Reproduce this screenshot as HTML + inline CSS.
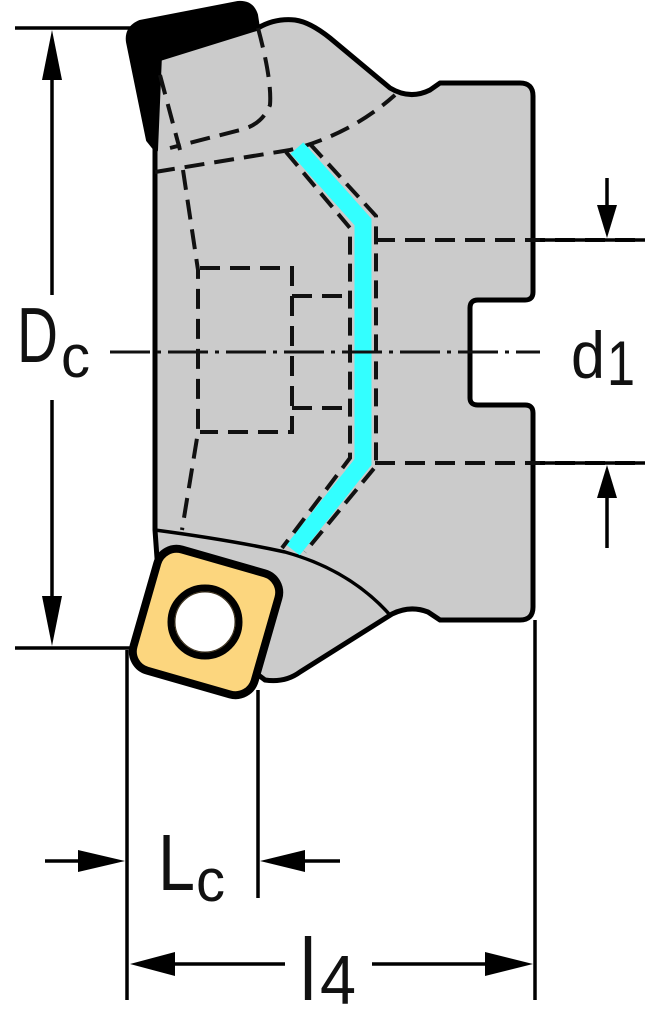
<!DOCTYPE html>
<html><head><meta charset="utf-8"><style>
html,body{margin:0;padding:0;background:#fff}
svg{display:block}
text{font-family:"Liberation Sans",sans-serif;fill:#111}
</style></head><body>
<svg width="661" height="1024" viewBox="0 0 661 1024" xmlns="http://www.w3.org/2000/svg">
<path d="M155,150 L155,60 L258,28 Q275,18 295,20 Q310,22 330,38 L390,88 Q410,100 430,90 L440,83 L520,83 Q533,83 533,96 L533,292 Q533,300 525,300 L478,300 Q470,300 470,308 L470,398 Q470,405 478,405 L525,405 Q533,405 533,413 L533,607 Q533,620 520,620 L440,620 L428,612 Q410,605 392,614 L300,672 Q285,683 265,680 L160,600 L155,530 Z" fill="#cbcbcb" stroke="#000" stroke-width="5" stroke-linejoin="round"/>
<path d="M155,530 Q230,540 285,552 Q350,570 390,615" fill="none" stroke="#000" stroke-width="3.5"/>
<path d="M128,42 Q126,28 140,22 L238,3 Q252,2 256,15 L258,28 L160,55 L156,150 L148,140 Z" fill="#000" stroke="#000" stroke-width="4" stroke-linejoin="round"/>
<g fill="none" stroke="#111" stroke-width="4" stroke-dasharray="20,10">
<path d="M258,28 Q272,80 270,105 Q262,125 240,130 L170,148"/>
<path d="M160,75 L180,150"/>
<path d="M155,172 L290,150 Q350,135 395,95"/>
<path d="M183,170 L198,270 L198,432 L182,530"/>
<path d="M200,268 L292,268 L292,432 L200,432"/>
<path d="M292,296 L345,296 M292,408 L345,408"/>
<path d="M375,240 L645,240 M375,463 L645,463"/>
</g>
<path d="M297,148 L363,222 L363,462 L293,550" fill="none" stroke="#3ff" stroke-width="17" stroke-linejoin="miter"/>
<g fill="none" stroke="#111" stroke-width="4" stroke-dasharray="18,9">
<path d="M286,152 L350,228 L350,458 L282,548"/>
<path d="M310,144 L376,216 L376,466 L305,552"/>
</g>
<g transform="rotate(16 206 622)">
<rect x="143" y="559" width="126" height="126" rx="20" fill="#fcd67e" stroke="#000" stroke-width="8"/>
</g>
<circle cx="205" cy="622" r="34" fill="none" stroke="#000" stroke-width="7"/>
<circle cx="205" cy="622" r="30" fill="#fff" stroke="#3a3020" stroke-width="1"/>
<path d="M110,352 L540,352" stroke="#111" stroke-width="3" stroke-dasharray="40,7,4,7"/>
<g stroke="#000" stroke-width="3.5" fill="none">
<path d="M15,28 L135,28 M15,648 L135,648"/>
<path d="M52,60 L52,295 M52,400 L52,618"/>
<path d="M607,178 L607,215 M607,488 L607,548"/>
<path d="M127,650 L127,1000 M258,690 L258,898 M535,620 L535,1000"/>
<path d="M45,861 L100,861 M285,861 L340,861"/>
<path d="M150,964 L285,964 M372,964 L510,964"/>
<path d="M540,240 L645,240 M540,463 L645,463"/>
</g>
<g fill="#000">
<polygon points="52,30 42,80 62,80"/>
<polygon points="52,646 42,596 62,596"/>
<polygon points="607,238 597,205 617,205"/>
<polygon points="607,465 597,498 617,498"/>
<polygon points="125,861 78,850 78,872"/>
<polygon points="260,861 305,850 305,872"/>
<polygon points="130,964 175,952 175,976"/>
<polygon points="533,964 485,952 485,976"/>
</g>
<text x="17" y="362" font-size="78" textLength="41" lengthAdjust="spacingAndGlyphs">D</text>
<text x="61" y="377" font-size="60" textLength="29" lengthAdjust="spacingAndGlyphs">c</text>
<text x="571" y="378" font-size="66" textLength="34" lengthAdjust="spacingAndGlyphs">d</text>
<text x="607" y="385" font-size="63" textLength="28" lengthAdjust="spacingAndGlyphs">1</text>
<text x="158" y="890" font-size="80" textLength="37" lengthAdjust="spacingAndGlyphs">L</text>
<text x="196" y="901" font-size="60" textLength="29" lengthAdjust="spacingAndGlyphs">c</text>
<text x="300" y="1000" font-size="88" textLength="16" lengthAdjust="spacingAndGlyphs">l</text>
<text x="320" y="1004" font-size="70" textLength="36" lengthAdjust="spacingAndGlyphs">4</text>
</svg>
</body></html>
